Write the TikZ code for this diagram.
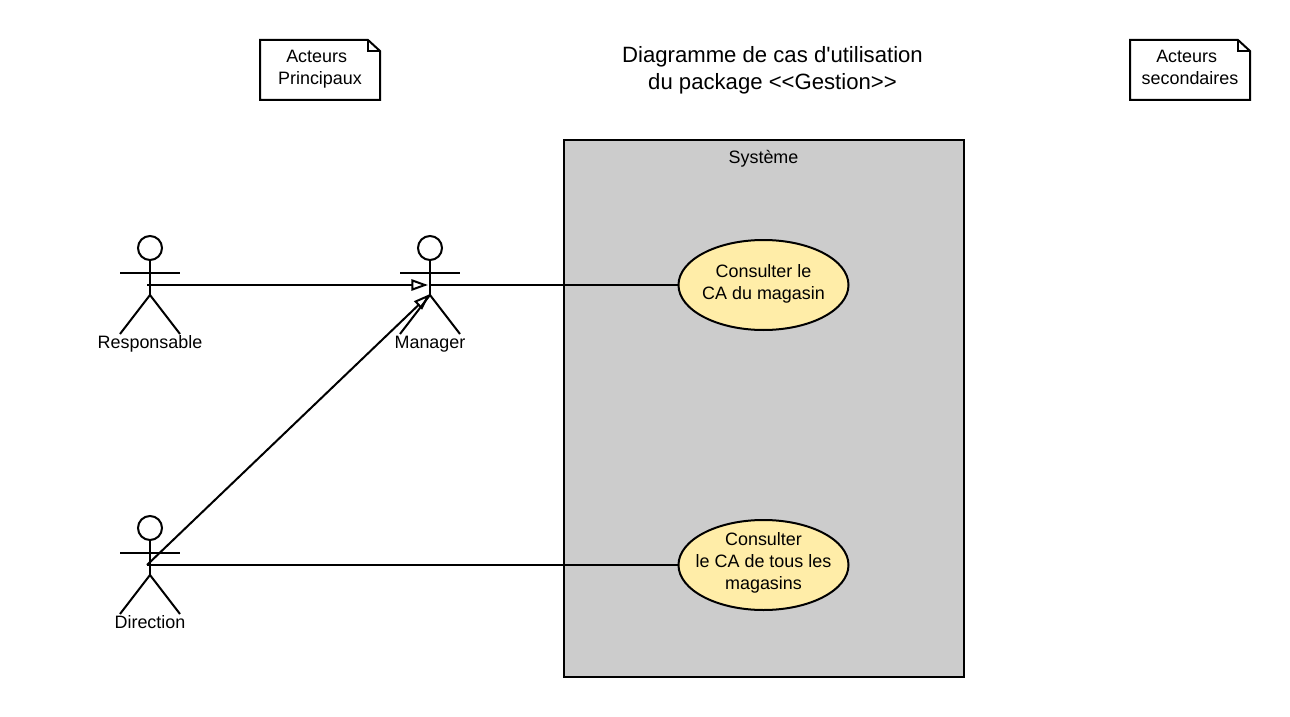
\documentclass[tikz,border=0pt]{standalone}
\usepackage{fontspec}
\setmainfont{Liberation Sans}
\usetikzlibrary{arrows.meta,shapes.geometric}
\tikzset{
  wire/.style={line width=1.5pt},
  gen/.style={wire, -{Triangle[open,length=12.5pt,width=8.5pt]}},
  txt/.style={font=\fontsize{13.45}{16.5}\selectfont, align=center, inner sep=0pt},
  titletxt/.style={font=\fontsize{16.6}{20.25}\selectfont, align=center, inner sep=0pt},
  usecase/.style={ellipse, draw, wire, fill=caseyellow, minimum width=127.5pt, minimum height=67.5pt, inner sep=0pt, outer sep=0pt},
  actor/.pic={
    \draw[wire] (0,-37) circle[radius=12];
    \draw[wire] (0,-25) -- (0,10);
    \draw[wire] (-30,-12.5) -- (30,-12.5);
    \draw[wire] (-30,49) -- (0,10) -- (30,49);
    \coordinate (-hand) at (-3,0);
    \coordinate (-mid) at (0,0);
    \coordinate (-in) at (-2,0);
    \coordinate (-top) at (0,9);
  },
  notebox/.pic={
    \draw[wire, fill=white] (-60,-30) -- (48,-30) -- (60,-19) -- (60,30) -- (-60,30) -- cycle;
    \draw[wire] (48,-30) -- (48,-19) -- (60,-19);
  }
}
\definecolor{caseyellow}{HTML}{FFEDA8}
\definecolor{sysgray}{HTML}{CCCCCC}
\begin{document}
\begin{tikzpicture}[x=0.75pt,y=-0.75pt]
  \useasboundingbox (0,0) rectangle (1290,717);
  % notes and title
  \pic at (320,70) {notebox};
  \node[txt] (noteprim) at (320,69) {Acteurs\kern5pt\\Principaux};
  \pic at (1190,70) {notebox};
  \node[txt] (notesec) at (1190,67) {Acteurs\kern5pt\\secondaires};
  \node[titletxt] (title) at (772.5,70.5) {Diagramme de cas d\textquotesingle utilisation\\du package <{}<Gestion>{}>};
  % system
  \draw[wire, fill=sysgray] (564,140) rectangle (964,677);
  \node[txt] (system) at (763.5,159) {Système};
  \node[usecase] (caone) at (763.5,285) {};
  \node[txt] (caonetxt) at (763.5,284) {Consulter le\\CA du magasin};
  \node[usecase] (caall) at (763.5,565) {};
  \node[txt] (caalltxt) at (763.5,563) {Consulter\\le CA de tous les\\magasins};
  % actors
  \pic (resp) at (150,285) {actor};
  \node[txt] (resplabel) at (150,344) {Responsable};
  \pic (mgr) at (430,285) {actor};
  \node[txt] (mgrlabel) at (430,344) {Manager};
  \pic (dir) at (150,565) {actor};
  \node[txt] (dirlabel) at (150,622) {Direction};
  % links
  \draw[gen] (resp-hand) -- (mgr-in);
  \draw[gen] (dir-hand) -- (mgr-top);
  \draw[wire] (mgr-mid) -- (caone.west);
  \draw[wire] (dir-hand) -- (caall.west);
\end{tikzpicture}
\end{document}
